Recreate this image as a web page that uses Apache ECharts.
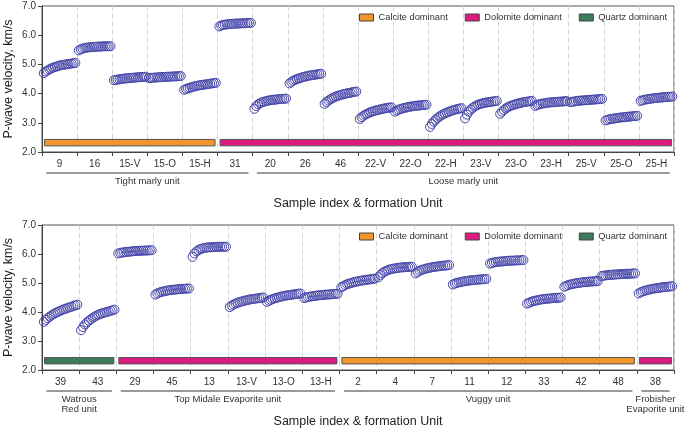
<!DOCTYPE html>
<html>
<head>
<meta charset="utf-8">
<script src="https://cdn.jsdelivr.net/npm/echarts@6/dist/echarts.min.js"></script>
<style>html,body{margin:0;padding:0;background:#fff}#c{width:685px;height:429px}</style>
</head>
<body>
<div id="c"></div>
<script>
// ---------- DATA ----------
const catsTop = ['9','16','15-V','15-O','15-H','31','20','26','46','22-V','22-O','22-H','23-V','23-O','23-H','25-V','25-O','25-H'];
const velTop = [
  [4.70,4.75,4.79,4.83,4.86,4.89,4.91,4.93,4.95,4.97,4.98,4.99,5.00,5.01,5.02,5.03,5.04,5.05],
  [5.48,5.52,5.54,5.56,5.57,5.58,5.59,5.59,5.60,5.60,5.61,5.61,5.61,5.62,5.62,5.62,5.62,5.62],
  [4.46,4.47,4.48,4.49,4.50,4.51,4.52,4.52,4.53,4.54,4.54,4.55,4.55,4.56,4.56,4.57,4.57,4.58],
  [4.53,4.54,4.54,4.55,4.55,4.56,4.56,4.57,4.57,4.57,4.58,4.58,4.58,4.59,4.59,4.59,4.60,4.60],
  [4.13,4.16,4.18,4.20,4.22,4.24,4.25,4.27,4.28,4.29,4.30,4.31,4.32,4.33,4.34,4.35,4.36,4.37],
  [6.30,6.33,6.35,6.36,6.37,6.38,6.38,6.39,6.39,6.40,6.40,6.40,6.41,6.41,6.41,6.42,6.42,6.42],
  [3.48,3.57,3.63,3.67,3.70,3.72,3.74,3.75,3.77,3.78,3.79,3.79,3.80,3.81,3.81,3.82,3.82,3.83],
  [4.35,4.40,4.44,4.47,4.50,4.52,4.54,4.56,4.58,4.59,4.61,4.62,4.63,4.64,4.65,4.66,4.67,4.68],
  [3.65,3.71,3.76,3.80,3.84,3.87,3.90,3.92,3.94,3.96,3.98,3.99,4.01,4.02,4.03,4.05,4.06,4.07],
  [3.13,3.19,3.24,3.28,3.31,3.34,3.37,3.39,3.41,3.43,3.44,3.46,3.47,3.49,3.50,3.51,3.52,3.53],
  [3.38,3.42,3.45,3.47,3.49,3.51,3.52,3.54,3.55,3.56,3.57,3.58,3.59,3.59,3.60,3.61,3.61,3.62],
  [2.86,2.96,3.04,3.10,3.16,3.21,3.25,3.29,3.32,3.35,3.37,3.40,3.42,3.44,3.46,3.47,3.49,3.50],
  [3.15,3.28,3.38,3.45,3.51,3.55,3.59,3.62,3.64,3.66,3.68,3.69,3.70,3.71,3.72,3.73,3.74,3.75],
  [3.31,3.38,3.44,3.49,3.53,3.56,3.59,3.61,3.63,3.65,3.67,3.68,3.70,3.71,3.72,3.73,3.74,3.75],
  [3.58,3.61,3.63,3.65,3.66,3.67,3.68,3.69,3.70,3.70,3.71,3.71,3.72,3.72,3.73,3.73,3.74,3.74],
  [3.71,3.72,3.73,3.74,3.75,3.76,3.76,3.77,3.77,3.78,3.78,3.79,3.79,3.80,3.80,3.81,3.81,3.82],
  [3.08,3.10,3.12,3.13,3.14,3.15,3.16,3.17,3.18,3.19,3.19,3.20,3.21,3.21,3.22,3.23,3.23,3.24],
  [3.75,3.77,3.79,3.80,3.81,3.82,3.83,3.84,3.85,3.85,3.86,3.87,3.87,3.88,3.88,3.89,3.89,3.90]
];
const catsBot = ['39','43','29','45','13','13-V','13-O','13-H','2','4','7','11','12','33','42','48','38'];
const velBot = [
  [3.66,3.73,3.79,3.84,3.89,3.93,3.97,4.00,4.03,4.06,4.09,4.11,4.14,4.16,4.18,4.21,4.23,4.25],
  [3.37,3.48,3.57,3.64,3.70,3.75,3.80,3.84,3.88,3.91,3.94,3.96,3.98,4.00,4.02,4.04,4.06,4.08],
  [6.02,6.04,6.05,6.06,6.07,6.08,6.08,6.09,6.10,6.10,6.11,6.11,6.11,6.12,6.12,6.12,6.13,6.13],
  [4.60,4.64,4.67,4.69,4.71,4.72,4.74,4.75,4.76,4.77,4.77,4.78,4.79,4.79,4.80,4.80,4.81,4.81],
  [5.90,6.02,6.09,6.14,6.17,6.19,6.21,6.22,6.23,6.23,6.24,6.24,6.24,6.25,6.25,6.25,6.25,6.25],
  [4.17,4.22,4.26,4.29,4.32,4.34,4.36,4.38,4.40,4.41,4.43,4.44,4.45,4.46,4.47,4.48,4.49,4.50],
  [4.35,4.39,4.42,4.45,4.47,4.49,4.51,4.53,4.54,4.56,4.57,4.58,4.59,4.60,4.61,4.62,4.63,4.64],
  [4.48,4.50,4.52,4.53,4.54,4.55,4.56,4.57,4.58,4.58,4.59,4.60,4.60,4.61,4.61,4.62,4.62,4.63],
  [4.85,4.89,4.93,4.96,4.98,5.00,5.02,5.04,5.05,5.07,5.08,5.09,5.10,5.11,5.12,5.13,5.14,5.15],
  [5.20,5.28,5.34,5.39,5.42,5.45,5.47,5.49,5.50,5.51,5.52,5.53,5.54,5.54,5.55,5.55,5.56,5.56],
  [5.33,5.38,5.42,5.45,5.47,5.49,5.51,5.52,5.54,5.55,5.56,5.57,5.58,5.59,5.60,5.60,5.61,5.62],
  [4.95,4.98,5.00,5.02,5.03,5.05,5.06,5.07,5.08,5.09,5.10,5.10,5.11,5.12,5.12,5.13,5.13,5.14],
  [5.67,5.69,5.71,5.72,5.73,5.74,5.74,5.75,5.76,5.76,5.77,5.77,5.77,5.78,5.78,5.78,5.79,5.79],
  [4.29,4.32,4.35,4.37,4.39,4.40,4.42,4.43,4.44,4.45,4.46,4.46,4.47,4.48,4.48,4.49,4.49,4.50],
  [4.87,4.90,4.93,4.95,4.96,4.98,4.99,5.00,5.01,5.02,5.03,5.03,5.04,5.05,5.05,5.06,5.06,5.07],
  [5.24,5.25,5.26,5.27,5.28,5.28,5.29,5.29,5.30,5.30,5.31,5.31,5.31,5.32,5.32,5.32,5.33,5.33],
  [4.64,4.68,4.71,4.73,4.75,4.77,4.78,4.80,4.81,4.82,4.83,4.84,4.85,4.86,4.87,4.87,4.88,4.89]
];
const minerals = ['Calcite dominant','Dolomite dominant','Quartz dominant'];
const mineralTop = [
  {mineral:'Calcite dominant', from:0, to:4},
  {mineral:'Dolomite dominant', from:5, to:17}
];
const mineralBot = [
  {mineral:'Quartz dominant', from:0, to:1},
  {mineral:'Dolomite dominant', from:2, to:7},
  {mineral:'Calcite dominant', from:8, to:15},
  {mineral:'Dolomite dominant', from:16, to:16}
];
const unitsTop = [
  {name:'Tight marly unit', from:0, to:5},
  {name:'Loose marly unit', from:6, to:17}
];
const unitsBot = [
  {name:'Watrous\nRed unit', from:0, to:1},
  {name:'Top Midale Evaporite unit', from:2, to:7},
  {name:'Vuggy unit', from:8, to:15},
  {name:'Frobisher\nEvaporite unit', from:16, to:16}
];
const yTicks = [2, 3, 4, 5, 6, 7];
const yTitle = 'P-wave velocity, km/s';
const xTitle = 'Sample index & formation Unit';

// ---------- STYLE ----------
const FONT = "'Liberation Sans', Arial, sans-serif";
const mineralColor = {
  'Calcite dominant':'#F2952A',
  'Dolomite dominant':'#DC1A7F',
  'Quartz dominant':'#3E7B5C'
};
const MARKER = '#4646aa';
const TXT = '#333';

function catAxis(gi, cats){
  return {
    gridIndex: gi, type:'category', data: cats, boundaryGap:true,
    name: xTitle, nameLocation:'middle', nameGap:45, nameMoveOverlap:false,
    nameTextStyle:{fontSize:12.5, color:'#222', fontFamily:FONT},
    axisLine:{onZero:false, lineStyle:{color:'#444', width:1}},
    axisTick:{show:true, length:4, lineStyle:{color:'#444'}},
    axisLabel:{interval:0, fontSize:10, color:TXT, margin:7, fontFamily:FONT},
    splitLine:{show:true, interval:0, lineStyle:{color:'#d4d4d4', type:[5,3], width:1}}
  };
}
function valXAxis(gi, n){
  return {gridIndex:gi, type:'value', min:-0.5, max:n-0.5, show:false};
}
function yAx(gi){
  return {
    gridIndex: gi, type:'value', min:yTicks[0], max:yTicks[yTicks.length-1], interval:1,
    name: yTitle, nameLocation:'middle', nameGap:27, nameRotate:90, nameMoveOverlap:false,
    nameTextStyle:{fontSize:12.5, color:'#222', fontFamily:FONT},
    axisLine:{show:true, onZero:false, lineStyle:{color:'#444'}},
    axisTick:{show:true, length:4, lineStyle:{color:'#444'}},
    axisLabel:{fontSize:10, color:TXT, margin:6, fontFamily:FONT, formatter:v=>v.toFixed(1)},
    splitLine:{show:false}
  };
}
function scatterSeries(xi, yi, vels){
  const pts = [];
  vels.forEach((arr, c) => {
    const n = arr.length;
    arr.forEach((v, j) => { pts.push([c - 0.45 + 0.9 * j / (n - 1), v]); });
  });
  return {
    type:'scatter', xAxisIndex:xi, yAxisIndex:yi, data:pts, symbol:'circle', symbolSize:9,
    itemStyle:{color:'rgba(255,255,255,0)', borderColor:MARKER, borderWidth:1, opacity:1},
    silent:true, z:3
  };
}
function mineralSeries(xi, yi, ranges){
  return minerals.map(m => {
    const rs = ranges.filter(r => r.mineral === m);
    return {
      type:'custom', name:m, xAxisIndex:xi, yAxisIndex:yi,
      itemStyle:{color:mineralColor[m], borderColor:'#555', borderWidth:1},
      data: rs.map(r => [r.from, r.to]),
      renderItem:(params, api) => {
        const a = api.coord([api.value(0) - 0.5, 2.43]);
        const b = api.coord([api.value(1) + 0.5, 2.21]);
        const inset = 2.5;
        return {type:'rect', shape:{x:a[0]+inset, y:a[1], width:b[0]-a[0]-2*inset, height:b[1]-a[1]},
          style:{fill:mineralColor[m], stroke:'#555', lineWidth:1}};
      },
      silent:true, z:2
    };
  });
}
function unitSeries(xi, yi, units){
  return {
    type:'custom', xAxisIndex:xi, yAxisIndex:yi, clip:false,
    data: units.map(u => [u.from, u.to]),
    renderItem:(params, api) => {
      const u = units[params.dataIndex];
      const bw = api.size([1,0])[0];
      const a = api.coord([api.value(0) - 0.5, 2]);
      const b = api.coord([api.value(1) + 0.5, 2]);
      const x1 = a[0] + 0.12*bw, x2 = b[0] - 0.12*bw;
      const y = a[1] + 21;
      return {type:'group', children:[
        {type:'line', shape:{x1:x1, y1:y, x2:x2, y2:y}, style:{stroke:'#9a9a9a', lineWidth:2}},
        {type:'text', style:{text:u.name, x:(x1+x2)/2, y:y+4, align:'center', verticalAlign:'top',
          fontSize:9.5, lineHeight:9.5, fontFamily:FONT, fill:TXT}}
      ]};
    },
    silent:true, z:2
  };
}
function legend(top){
  return {
    top: top, right: 18, padding:0, itemWidth:14, itemHeight:7, itemGap:17, icon:'rect',
    data: minerals, selectedMode:false,
    textStyle:{fontSize:9.3, color:TXT, fontFamily:FONT, padding:[0,0,0,0]},
    itemStyle:{borderColor:'#444', borderWidth:1}
  };
}

const chart = echarts.init(document.getElementById('c'), null, {renderer:'canvas'});
chart.setOption({
  animation:false,
  textStyle:{fontFamily:FONT},
  grid:[
    {left:42, width:632, top:6, height:146, containLabel:false, outerBoundsMode:'none',
     show:true, borderColor:'#555', borderWidth:1, backgroundColor:'transparent'},
    {left:42, width:632, top:225, height:145, containLabel:false, outerBoundsMode:'none',
     show:true, borderColor:'#555', borderWidth:1, backgroundColor:'transparent'}
  ],
  legend:[legend(13), legend(232)],
  xAxis:[catAxis(0, catsTop), valXAxis(0, catsTop.length), catAxis(1, catsBot), valXAxis(1, catsBot.length)],
  yAxis:[yAx(0), yAx(1)],
  series:[
    scatterSeries(1, 0, velTop),
    scatterSeries(3, 1, velBot),
    ...mineralSeries(1, 0, mineralTop),
    ...mineralSeries(3, 1, mineralBot),
    unitSeries(1, 0, unitsTop),
    unitSeries(3, 1, unitsBot)
  ]
});
</script>
</body>
</html>
